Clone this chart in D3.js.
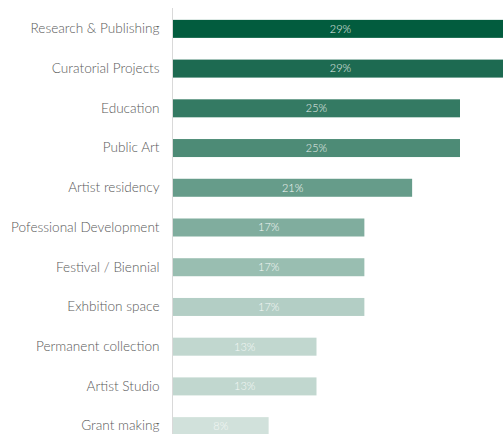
<!DOCTYPE html>
<html>
<head>
<meta charset="utf-8">
<script src="https://cdn.jsdelivr.net/npm/d3@7"></script>
<style>
html,body{margin:0;padding:0;background:#fff;overflow:hidden;}
svg{display:block;}
</style>
</head>
<body>
<svg id="chart" width="503" height="434"></svg>
<script>
const categories = ["Research & Publishing","Curatorial Projects","Education","Public Art","Artist residency","Pofessional Development","Festival / Biennial","Exhbition space","Permanent collection","Artist Studio","Grant making"];
const values = [29.17,29.17,25,25,20.83,16.67,16.67,16.67,12.5,12.5,8.33];
const valueLabels = ["29%","29%","25%","25%","21%","17%","17%","17%","13%","13%","8%"];
const barColors = ["#025c3e","#1d6a51","#347a63","#4d8b76","#669c8a","#80ad9e","#99beb1","#b3cec5","#c1d7cf","#c1d7cf","#d1e1db"];

const svg = d3.select("#chart");
const left = 173;
const x = d3.scaleLinear().domain([0, 10]).range([left, left + 114.8]);
const y = d3.scaleBand().domain(categories).range([9, 446]).paddingInner(0.547).paddingOuter(0.2735);

svg.append("g").selectAll("rect").data(categories).join("rect")
  .attr("x", x(0))
  .attr("y", d => y(d))
  .attr("width", (d,i) => x(values[i]) - x(0))
  .attr("height", y.bandwidth())
  .attr("fill", (d,i) => barColors[i]);

svg.append("g").selectAll("text").data(categories).join("text")
  .attr("x", (d,i) => (x(0) + x(values[i])) / 2)
  .attr("y", d => y(d) + y.bandwidth()/2)
  .attr("dy", "0.35em")
  .attr("text-anchor", "middle")
  .attr("font-family", "Lato, 'Open Sans', sans-serif")
  .attr("font-weight", 300)
  .attr("font-size", "11px")
  .attr("fill", (d,i) => i < 4 ? "#e6eeea" : "#f4f8f6")
  .text((d,i) => valueLabels[i]);

const yAxis = d3.axisLeft(y).tickSize(0).tickPadding(13);
const ga = svg.append("g").attr("transform", `translate(${left - 0.5},0)`).call(yAxis);
ga.select(".domain").remove();
ga.selectAll("text")
  .attr("font-family", "Lato, 'Open Sans', sans-serif")
  .attr("font-weight", 300)
  .attr("font-size", "13.6px")
  .attr("fill", "#595959");

svg.append("line")
  .attr("x1", left - 0.5).attr("x2", left - 0.5)
  .attr("y1", 8).attr("y2", 434)
  .attr("stroke", "#d9d9d9").attr("stroke-width", 1);
</script>
</body>
</html>
